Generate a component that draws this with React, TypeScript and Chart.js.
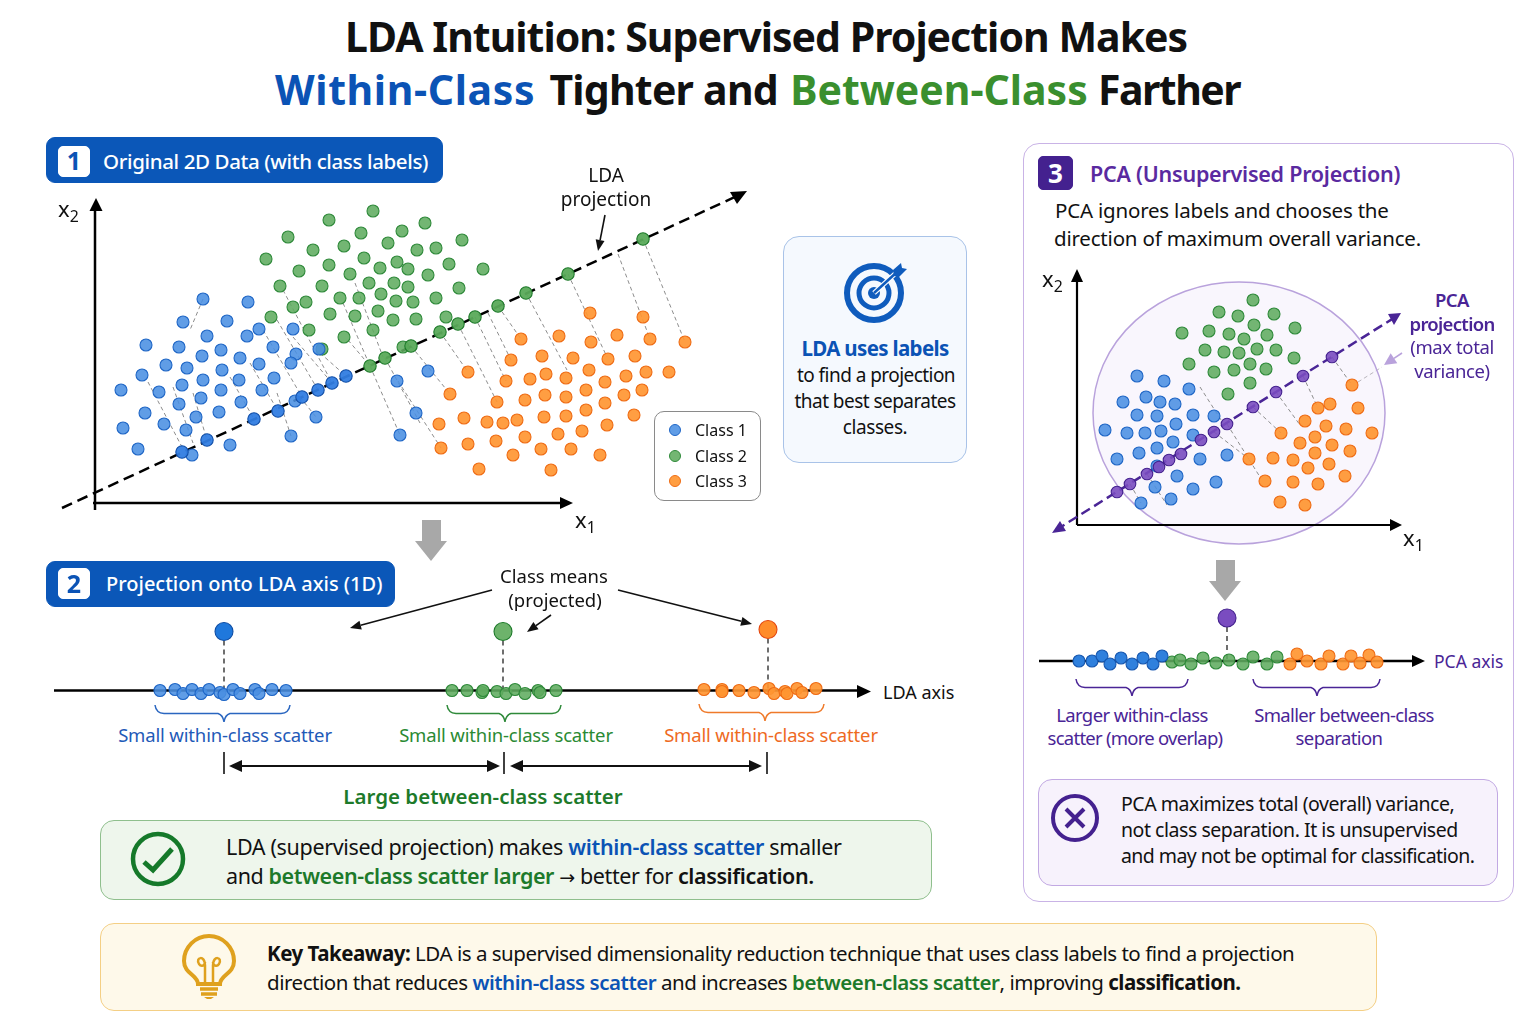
import React, { useEffect, useRef } from "react";
import { Chart, registerables } from "chart.js";

Chart.register(...registerables);

type P = [number, number];

// Panel 1: original 2D data (units: distance from the x1/x2 origin)
const class1Points: P[] = [[108,204],[153,201],[88,181],[132,182],[164,174],[198,174],[112,167],[152,167],[51,158],[84,156],[126,153],[178,156],[224,154],[201,149],[107,147],[145,145],[71,138],[92,135],[127,133],[164,139],[196,140],[47,128],[144,123],[108,123],[179,125],[87,118],[26,113],[64,111],[126,113],[167,113],[106,105],[84,99],[146,101],[50,90],[124,91],[101,86],[69,79],[91,73],[28,75],[221,86],[196,67],[135,58],[43,54],[97,48],[200,102],[302,122],[305,68],[333,132],[321,90]];
const class2Points: P[] = [[278,292],[234,283],[193,266],[307,272],[266,270],[293,260],[249,257],[218,253],[171,244],[269,245],[234,238],[302,241],[285,235],[204,232],[255,229],[313,234],[274,220],[299,220],[227,217],[185,217],[313,216],[286,209],[245,205],[264,205],[301,202],[211,201],[198,196],[283,192],[176,186],[235,189],[260,187],[298,183],[214,173],[278,173],[249,166],[227,154],[330,280],[367,263],[322,253],[341,255],[354,239],[388,234],[333,228],[364,215],[341,205],[318,201],[321,184],[351,186],[308,156]];
const class3Points: P[] = [[495,190],[548,186],[464,167],[522,168],[426,164],[496,161],[555,164],[590,161],[447,147],[478,145],[513,144],[540,147],[416,143],[494,133],[373,131],[451,129],[551,131],[574,131],[531,127],[411,122],[435,124],[471,125],[510,121],[491,113],[547,113],[355,109],[450,108],[529,108],[471,106],[430,103],[402,101],[510,100],[491,93],[539,88],[449,86],[471,87],[369,85],[422,83],[392,81],[408,80],[344,79],[512,78],[487,72],[463,69],[430,66],[401,62],[373,59],[346,55],[476,54],[446,54],[418,48],[505,48],[384,34],[456,33]];
const class1OnLine: P[] = [[87,51],[112,63],[159,84],[183,92],[207,106],[223,113],[237,120],[251,127]];
const class2OnLine: P[] = [[275,137],[290,145],[316,157],[345,171],[363,179],[380,186],[403,197],[431,210],[473,229],[548,264]];
const ldaLine: P[] = [[-33,-5],[642,307]];
const ldaGuides: [number, number, number, number][] = [[548,264,590,161],[523,249,555,164],[473,229,512,146],[431,210,472,133],[403,197,426,164],[393,190,416,143],[380,186,411,122],[363,179,402,101],[345,171,373,131],[316,157,355,109],[303,122,346,55],[188,213,237,120],[182,183,223,113],[248,200,275,137],[260,220,288,146],[253,163,275,137],[53,121,87,56],[78,116,98,60],[98,110,112,63],[155,140,183,92],[168,173,207,106],[198,166,237,120],[225,150,251,127],[135,126,159,84],[182,110,196,67],[205,106,221,86],[275,137,305,68],[290,145,325,80],[108,204,95,173]];

// Panel 2: projection onto the LDA axis
const lda1Points: P[] = [[106,0],[121,1],[129,-3],[138,1],[147,-3],[155,1],[166,-2],[170,-4],[179,1],[186,-3],[201,1],[205,-3],[218,1],[232,0]];
const lda2Points: P[] = [[398,0],[413,0],[428,-2],[429,0],[443,-1],[452,-3],[461,1],[471,-3],[484,0],[486,-2],[502,0]];
const lda3Points: P[] = [[650,1],[668,1],[668,-1],[685,0],[700,-2],[715,2],[720,-3],[731,-1],[733,-3],[743,2],[748,-2],[762,2]];
const ldaMeans: P[] = [[170,59],[449,59],[714,61]];

// Panel 3: PCA
const pcaClass1: P[] = [[60,149],[87,144],[112,136],[69,128],[46,123],[98,121],[83,123],[60,110],[80,109],[116,110],[137,109],[99,101],[28,95],[50,92],[84,94],[116,90],[68,92],[96,83],[80,77],[62,72],[40,66],[123,66],[150,70],[80,59],[100,49],[78,38],[116,36],[139,43],[64,22],[94,26]];
const pcaClass2: P[] = [[176,225],[142,213],[161,209],[197,211],[177,200],[105,192],[132,194],[218,197],[152,191],[190,190],[167,186],[128,175],[147,173],[162,172],[180,176],[199,175],[217,167],[112,161],[137,153],[157,155],[173,161],[189,156],[173,142],[151,131]];
const pcaClass3: P[] = [[275,140],[253,121],[281,117],[241,117],[228,104],[249,99],[269,96],[295,92],[204,92],[238,88],[223,82],[255,80],[238,72],[273,74],[172,66],[196,67],[216,65],[252,61],[231,57],[268,49],[188,44],[216,43],[241,41],[203,23],[228,20]];
const pcaOnLine: P[] = [[40,33],[53,41],[70,51],[82,58],[92,65],[104,71],[124,85],[137,93],[150,101],[176,118],[199,133],[226,149],[255,168]];
const pcaLine: P[] = [[-21,-5],[320,209]];
const pcaGuides: [number, number, number, number][] = [[255,168,275,140],[226,149,241,117],[199,133,223,100],[176,118,204,92],[150,101,183,48],[123,138,146,102],[137,93,172,66],[70,51,90,20],[53,41,64,22]];
const pcaEllipse = { cx: 162, cy: 112, rx: 146, ry: 131 };

// Panel 3, lower: PCA axis
const pcaAxis1: P[] = [[40,0],[53,0],[63,5],[71,-3],[82,3],[93,-3],[104,3],[114,-3],[123,5]];
const pcaAxis2: P[] = [[133,-1],[141,1],[152,-3],[164,3],[177,-2],[190,1],[204,-3],[214,4],[228,-3],[238,4]];
const pcaAxis3: P[] = [[251,-3],[258,7],[268,0],[282,-3],[290,5],[304,-3],[312,5],[321,-2],[330,6],[338,-1]];
const pcaMean: P[] = [[188,43]];

const legendLabels = ["Class 1", "Class 2", "Class 3"];

const BLUE = { fill: "rgba(74,144,226,0.88)", line: "#1f66c6" };
const GREEN = { fill: "rgba(96,172,96,0.88)", line: "#2f8a3a" };
const ORANGE = { fill: "rgba(255,150,50,0.92)", line: "#ef6c14" };
const PURPLE = { fill: "#7a4cc0", line: "#44218f" };
const FONT = '"Noto Sans", sans-serif';

const toXY = (a: P[]) => a.map(([x, y]) => ({ x, y }));
const pts = (label: string, data: P[], c: { fill: string; line: string }, r = 6, order = 1) => ({
  label, data: toXY(data), backgroundColor: c.fill, borderColor: c.line, pointBackgroundColor: c.fill,
  pointBorderColor: c.line, pointBorderWidth: 1.1, pointRadius: r, showLine: false, order,
});
const line = (label: string, data: P[], color: string, width: number, dash: number[] = [], order = 5) => ({
  label, data: toXY(data), borderColor: color, backgroundColor: color, borderWidth: width, borderDash: dash,
  pointRadius: 0, showLine: true, order,
});
const guide = (s: number[], i: number) =>
  line("guide " + i, [[s[0], s[1]], [s[2], s[3]]], "#8d8d8d", 1, [4, 3], 6);

function Plot({ left, top, width, height, xr, yr, datasets, ellipse }: any) {
  const ref = useRef<HTMLCanvasElement>(null);
  useEffect(() => {
    const plugin = {
      id: "ellipse",
      beforeDatasetsDraw(c: any) {
        if (!ellipse) return;
        const { ctx, scales } = c;
        const px = scales.x.getPixelForValue(ellipse.cx);
        const py = scales.y.getPixelForValue(ellipse.cy);
        const rx = Math.abs(scales.x.getPixelForValue(ellipse.cx + ellipse.rx) - px);
        const ry = Math.abs(scales.y.getPixelForValue(ellipse.cy + ellipse.ry) - py);
        ctx.save();
        ctx.beginPath();
        ctx.ellipse(px, py, rx, ry, 0, 0, Math.PI * 2);
        ctx.fillStyle = "rgba(140,100,210,0.055)";
        ctx.fill();
        ctx.strokeStyle = "#b9a2dc";
        ctx.lineWidth = 1.5;
        ctx.stroke();
        ctx.restore();
      },
    };
    const chart = new Chart(ref.current as HTMLCanvasElement, {
      type: "scatter",
      data: { datasets },
      options: {
        animation: false,
        responsive: false,
        layout: { padding: 0, autoPadding: false },
        plugins: { legend: { display: false }, tooltip: { enabled: false } },
        scales: {
          x: { type: "linear", display: false, min: xr[0], max: xr[1] },
          y: { type: "linear", display: false, min: yr[0], max: yr[1] },
        },
      },
      plugins: [plugin],
    } as any);
    return () => chart.destroy();
  }, []);
  return <canvas ref={ref} width={width} height={height} style={{ position: "absolute", left, top, width, height }} />;
}

function T({ x, y, size = 19, w = 400, c = "#111", a = "l", ls = 0, children }: any) {
  const tr = a === "c" ? "translate(-50%,-50%)" : "translate(0,-50%)";
  return (
    <div style={{ position: "absolute", left: x, top: y, transform: tr, fontSize: size, fontWeight: w, color: c, whiteSpace: "pre", lineHeight: 1.1, letterSpacing: ls }}>
      {children}
    </div>
  );
}
const Box = ({ x, y, w, h, r = 14, fill = "#fff", b = "#999", bw = 1.5 }: any) => (
  <div style={{ position: "absolute", left: x, top: y, width: w, height: h, borderRadius: r, background: fill, border: `${bw}px solid ${b}`, boxSizing: "border-box" }} />
);
const Brace = ({ x0, x1, xm, y0, c }: any) => (
  <path d={`M${x0} ${y0} Q${x0 + 1} ${y0 + 8} ${x0 + 9} ${y0 + 8.5} L${xm - 6} ${y0 + 8.5} Q${xm - 1} ${y0 + 10} ${xm} ${y0 + 17} Q${xm + 1} ${y0 + 10} ${xm + 6} ${y0 + 8.5} L${x1 - 9} ${y0 + 8.5} Q${x1 - 1} ${y0 + 8} ${x1} ${y0}`} fill="none" stroke={c} strokeWidth={1.5} />
);
const Arrow = ({ x0, y0, x1, y1, c = "#111", sw = 1.6, s = 11, hw = 4.5 }: any) => {
  const a = Math.atan2(y1 - y0, x1 - x0);
  const bx = x1 - s * Math.cos(a), by = y1 - s * Math.sin(a);
  const nx = -Math.sin(a) * hw, ny = Math.cos(a) * hw;
  return (
    <g>
      <line x1={x0} y1={y0} x2={bx} y2={by} stroke={c} strokeWidth={sw} />
      <polygon points={`${x1},${y1} ${bx + nx},${by + ny} ${bx - nx},${by - ny}`} fill={c} />
    </g>
  );
};
const BlockArrow = ({ x, y }: any) => (
  <polygon points={`${x - 9},${y} ${x + 10},${y} ${x + 10},${y + 21} ${x + 16},${y + 21} ${x},${y + 41} ${x - 16},${y + 21} ${x - 9},${y + 21}`} fill="#a8a8a8" />
);
const Sub = ({ base, sub }: any) => (<span>{base}<sub style={{ fontSize: "0.72em", verticalAlign: "-0.3em", lineHeight: 0 }}>{sub}</sub></span>);

const BL = "#0b53b5", GR = "#1d7a2a", PU = "#4a2596";

export default function App() {
  return (
    <div style={{ position: "absolute", left: 0, top: 0, width: 1536, height: 1024, overflow: "hidden", background: "#fff", fontFamily: FONT }}>
      {/* panel backgrounds */}
      <Box x={1023} y={143} w={491} h={759} r={16} b="#c9b3e6" bw={1.6} />
      <Box x={783} y={236} w={184} h={227} r={16} fill="#f5f9fe" b="#a9c3e8" />
      <Box x={654} y={411} w={107} h={90} r={10} b="#8a8a8a" />
      <Box x={100} y={820} w={832} h={80} r={14} fill="#eef6ec" b="#8fbf8d" />
      <Box x={100} y={923} w={1277} h={88} r={14} fill="#fef9ea" b="#f4cf85" />
      <Box x={1038} y={779} w={460} h={107} r={14} fill="#f7f2fc" b="#c2a9e3" />
      <Box x={46} y={137} w={397} h={46} r={9} fill="#0b57b8" b="#0b57b8" />
      <Box x={46} y={561} w={349} h={46} r={9} fill="#0b57b8" b="#0b57b8" />
      <Box x={58} y={146} w={32} h={31} r={5} fill="#fff" b="#fff" />
      <Box x={58} y={568} w={32} h={31} r={5} fill="#fff" b="#fff" />
      <Box x={1038} y={156} w={35} h={34} r={5} fill="#44218f" b="#44218f" />

      {/* decorations */}
      <svg width={1536} height={1024} style={{ position: "absolute", left: 0, top: 0 }}>
        <polygon points="96,198 89.5,211 102.5,211" fill="#000" />
        <polygon points="573,503 560,497 560,509" fill="#000" />
        <polygon points="747,191 730,192 737,204" fill="#000" />
        <Arrow x0={605} y0={215} x1={598} y1={251} />
        <BlockArrow x={431} y={520} />
        <BlockArrow x={1225} y={560} />
        <Arrow x0={492} y0={590} x1={350} y1={628} />
        <Arrow x0={551} y0={615} x1={527} y1={632} />
        <Arrow x0={618} y0={590} x1={752} y1={624} />
        <polygon points="871,691.5 857,685 857,698" fill="#000" />
        <Brace x0={155} x1={290} xm={224} y0={705} c="#2a66c0" />
        <Brace x0={447} x1={561} xm={505} y0={705} c="#2f8a3a" />
        <Brace x0={699} x1={824} xm={765} y0={704} c="#ef7a2a" />
        <line x1={224} y1={752} x2={224} y2={774} stroke="#111" strokeWidth={1.6} />
        <line x1={504} y1={752} x2={504} y2={774} stroke="#111" strokeWidth={1.6} />
        <line x1={767} y1={752} x2={767} y2={774} stroke="#111" strokeWidth={1.6} />
        <Arrow x0={240} y0={766} x1={229} y1={766} sw={2.2} s={13} hw={6} />
        <Arrow x0={490} y0={766} x1={500} y1={766} sw={2.2} s={13} hw={6} />
        <line x1={235} y1={766} x2={490} y2={766} stroke="#111" strokeWidth={2.2} />
        <Arrow x0={520} y0={766} x1={510} y1={766} sw={2.2} s={13} hw={6} />
        <Arrow x0={752} y0={766} x1={762} y1={766} sw={2.2} s={13} hw={6} />
        <line x1={515} y1={766} x2={752} y2={766} stroke="#111" strokeWidth={2.2} />

        <polygon points="1077,269 1071,282 1083,282" fill="#000" />
        <polygon points="1402,525 1390,519 1390,531" fill="#000" />
        <polygon points="1401,313 1388,314 1394,325" fill={PU} />
        <polygon points="1052,533 1060,521 1066,531" fill={PU} />
        <Arrow x0={1402} y0={353} x1={1384} y1={365} c="#b9a2dc" s={12} hw={6} />
        <line x1={1358} y1={382} x2={1382} y2={367} stroke="#bdbdbd" strokeWidth={1} strokeDasharray="4 3" />
        <polygon points="1425,661 1412,655 1412,667" fill="#000" />
        <Brace x0={1076} x1={1188} xm={1132} y0={679} c={PU} />
        <Brace x0={1253} x1={1380} xm={1317} y0={679} c={PU} />

        {/* target icon */}
        <g fill="none" stroke="#0f5cbd">
          <circle cx={874} cy={293} r={27} strokeWidth={6} />
          <circle cx={874} cy={293} r={15} strokeWidth={5} />
        </g>
        <circle cx={874} cy={293} r={6} fill="#0f5cbd" />
        <line x1={874} y1={293} x2={897} y2={272} stroke="#fff" strokeWidth={5} />
        <line x1={874} y1={293} x2={897} y2={272} stroke="#0f5cbd" strokeWidth={2.5} />
        <polygon points="893,270 901,263 902,268 907,269 899,277 894,276" fill="#0f5cbd" />

        {/* check icon */}
        <circle cx={158} cy={859} r={25} fill="none" stroke="#15792a" strokeWidth={4.5} />
        <polyline points="144,862 153,870 172,849" fill="none" stroke="#15792a" strokeWidth={5} />

        {/* bulb icon */}
        <g fill="none" stroke="#dfa11e">
          <path d="M198 984 C198 975 184 974 184 961 A25 25 0 1 1 234 961 C234 974 220 975 220 984 Z" strokeWidth={4} />
          <path d="M205 983 L205 965 C205 955 195 957 199 964 C201 967 205 966 205 962 M213 983 L213 965 C213 955 223 957 219 964 C217 967 213 966 213 962" strokeWidth={2.5} />
          <path d="M200 989 H218 M201 994 H217" strokeWidth={3.5} />
        </g>
        <path d="M204 997 H214 L211 999 H207 Z" fill="#dfa11e" />

        {/* x icon */}
        <circle cx={1075} cy={818} r={22} fill="none" stroke="#44218f" strokeWidth={4} />
        <path d="M1066 809 L1084 827 M1084 809 L1066 827" stroke="#44218f" strokeWidth={4} />
      </svg>

      {/* charts */}
      <Plot left={40} top={185} width={730} height={340} xr={[-55, 675]} yr={[-22, 318]}
        datasets={[
          pts("Class 1 on LDA line", class1OnLine, { fill: "rgba(50,125,225,0.95)", line: "#124fa8" }, 6.2, 0),
          pts("Class 2 on LDA line", class2OnLine, { fill: "rgba(90,170,90,0.95)", line: "#1d7a2a" }, 6.2, 0),
          pts(legendLabels[0], class1Points, BLUE),
          pts(legendLabels[1], class2Points, GREEN),
          pts(legendLabels[2], class3Points, ORANGE),
          line("LDA projection", ldaLine, "#000", 2.5, [11, 6], 3),
          line("x1 axis", [[-2, 0], [466, 0]], "#000", 2.5, [], 4),
          line("x2 axis", [[0, -7], [0, 293]], "#000", 2.5, [], 4),
          ...ldaGuides.map(guide),
        ]} />
      <Plot left={40} top={610} width={840} height={100} xr={[-14, 826]} yr={[-19.5, 80.5]}
        datasets={[
          pts("Class 1 mean", [ldaMeans[0]], { fill: "#1f78dc", line: "#0e4da4" }, 9, 0),
          pts("Class 2 mean", [ldaMeans[1]], { fill: "#6db36b", line: "#1d7a2a" }, 9, 0),
          pts("Class 3 mean", [ldaMeans[2]], { fill: "#ff8c2a", line: "#e4470f" }, 9, 0),
          pts("Class 1 projected", lda1Points, BLUE, 6),
          pts("Class 2 projected", lda2Points, GREEN, 6),
          pts("Class 3 projected", lda3Points, ORANGE, 6),
          line("LDA axis", [[0, 0], [804, 0]], "#000", 2.5),
          ...ldaMeans.map((m, i) => line("mean drop " + i, [m, [m[0], 0]], "#222", 1.3, [5, 4], 6)),
        ]} />
      <Plot left={1030} top={260} width={400} height={290} xr={[-47, 353]} yr={[-25, 265]} ellipse={pcaEllipse}
        datasets={[
          pts("PCA projected", pcaOnLine, { fill: "rgba(122,76,192,0.9)", line: PURPLE.line }, 5.8, 0),
          pts("Class 1", pcaClass1, BLUE),
          pts("Class 2", pcaClass2, GREEN),
          pts("Class 3", pcaClass3, ORANGE),
          line("PCA projection", pcaLine, PU, 2.5, [10, 5], 3),
          line("x1 axis", [[0, 0], [315, 0]], "#000", 2.2, [], 4),
          line("x2 axis", [[0, 0], [0, 245]], "#000", 2.2, [], 4),
          ...pcaGuides.map(guide),
        ]} />
      <Plot left={1030} top={600} width={400} height={85} xr={[-9, 391]} yr={[-24, 61]}
        datasets={[
          pts("PCA mean", pcaMean, PURPLE, 9, 0),
          pts("Class 1 on PCA axis", pcaAxis1, { fill: "#2f80dd", line: "#1657b0" }, 6),
          pts("Class 2 on PCA axis", pcaAxis2, GREEN, 6),
          pts("Class 3 on PCA axis", pcaAxis3, ORANGE, 6),
          line("PCA axis", [[0, 0], [375, 0]], "#000", 2.5),
          line("mean drop", [pcaMean[0], [pcaMean[0][0], 0]], "#222", 1.3, [5, 4], 6),
        ]} />

      {/* title */}
      <T x={345} y={37} size={41} w={700} ls={-0.98}>LDA Intuition: Supervised Projection Makes</T>
      <T x={275} y={90} size={41} w={700}>
        <span style={{ color: "#0b53b5", letterSpacing: 0.63 }}>Within-Class</span>
        <span style={{ letterSpacing: 3.5 }}> </span>
        <span style={{ letterSpacing: -0.75 }}>Tighter and</span>
        <span style={{ letterSpacing: 1.5 }}> </span>
        <span style={{ color: "#3a8f2e", letterSpacing: 0 }}>Between-Class</span>
        <span style={{ letterSpacing: -0.5 }}> </span>
        <span style={{ letterSpacing: -1.5 }}>Farther</span>
      </T>

      {/* panel 1 */}
      <T x={74} y={161} size={25} w={700} c={BL} a="c">1</T>
      <T x={103} y={161} size={20.5} ls={-0.37} w={500} c="#fff">Original 2D Data (with class labels)</T>
      <T x={58} y={208} size={22}><Sub base="x" sub="2" /></T>
      <T x={575} y={519} size={22}><Sub base="x" sub="1" /></T>
      <T x={606} y={175} size={19} a="c">LDA</T>
      <T x={606} y={199} size={19} a="c">projection</T>

      {/* legend */}
      {legendLabels.map((l, i) => (
        <T key={l} x={695} y={431 + i * 25.5} size={16}>{l}</T>
      ))}
      {[BLUE, GREEN, ORANGE].map((c, i) => (
        <div key={i} style={{ position: "absolute", left: 669, top: 424 + i * 25.5, width: 12, height: 12, borderRadius: "50%", background: c.fill, border: `1.2px solid ${c.line}`, boxSizing: "border-box" }} />
      ))}

      {/* callout */}
      <T x={875} y={348} size={20.5} w={700} ls={-0.66} c={BL} a="c">LDA uses labels</T>
      <T x={876} y={375} size={19} ls={-0.55} a="c">to find a projection</T>
      <T x={875} y={401} size={19} ls={-0.55} a="c">that best separates</T>
      <T x={875} y={427} size={19} ls={-0.4} a="c">classes.</T>

      {/* panel 2 */}
      <T x={74} y={584} size={25} w={700} c={BL} a="c">2</T>
      <T x={106} y={584} size={20} w={500} c="#fff">Projection onto LDA axis (1D)</T>
      <T x={554} y={576} size={18.5} a="c">Class means</T>
      <T x={555} y={600} size={18.5} a="c">(projected)</T>
      <T x={883} y={693} size={18}>LDA axis</T>
      <T x={225} y={735} size={18.5} ls={-0.16} c="#1f5ab8" a="c">Small within-class scatter</T>
      <T x={506} y={735} size={18.5} ls={-0.16} c="#2a8a33" a="c">Small within-class scatter</T>
      <T x={771} y={735} size={18.5} ls={-0.16} c="#ee6a1f" a="c">Small within-class scatter</T>
      <T x={483} y={796} size={20.5} w={600} c={GR} a="c">Large between-class scatter</T>

      {/* green note */}
      <T x={226} y={847} size={21.5} ls={-0.34}>
        LDA (supervised projection) makes <span style={{ color: BL, fontWeight: 600 }}>within-class scatter</span> smaller
      </T>
      <T x={226} y={876} size={21.5} ls={-0.4}>
        and <span style={{ color: GR, fontWeight: 600 }}>between-class scatter larger</span> <span style={{ fontFamily: '"DejaVu Sans"', fontSize: 19 }}>→</span> better for <span style={{ fontWeight: 600 }}>classification.</span>
      </T>

      {/* takeaway */}
      <T x={267} y={953} size={20.5} ls={-0.48}>
        <span style={{ fontWeight: 700 }}>Key Takeaway:</span> LDA is a supervised dimensionality reduction technique that uses class labels to find a projection
      </T>
      <T x={267} y={982} size={20.5} ls={-0.47}>
        direction that reduces <span style={{ color: BL, fontWeight: 600 }}>within-class scatter</span> and increases <span style={{ color: GR, fontWeight: 600 }}>between-class scatter</span>, improving <span style={{ fontWeight: 700 }}>classification.</span>
      </T>

      {/* panel 3 */}
      <T x={1055.5} y={173} size={26} w={700} c="#fff" a="c">3</T>
      <T x={1090} y={174} size={21.5} ls={-0.24} w={600} c="#5a2aa0">PCA (Unsupervised Projection)</T>
      <T x={1055} y={210} size={20.5} ls={-0.2}>PCA ignores labels and chooses the</T>
      <T x={1054} y={238} size={20.5} ls={-0.2}>direction of maximum overall variance.</T>
      <T x={1042} y={278} size={22}><Sub base="x" sub="2" /></T>
      <T x={1403} y={537} size={22}><Sub base="x" sub="1" /></T>
      <T x={1452} y={300} size={18.5} ls={-0.6} w={600} c={PU} a="c">PCA</T>
      <T x={1452} y={324} size={18.5} ls={-0.7} w={600} c={PU} a="c">projection</T>
      <T x={1452} y={347} size={18.5} ls={-0.4} c={PU} a="c">(max total</T>
      <T x={1452} y={371} size={18.5} ls={-0.4} c={PU} a="c">variance)</T>
      <T x={1434} y={662} size={17.5} c={PU}>PCA axis</T>
      <T x={1132} y={715} size={18.5} ls={-0.6} c={PU} a="c">Larger within-class</T>
      <T x={1135} y={738} size={18.5} ls={-0.75} c={PU} a="c">scatter (more overlap)</T>
      <T x={1344} y={715} size={18.5} ls={-0.65} c={PU} a="c">Smaller between-class</T>
      <T x={1339} y={738} size={18.5} ls={-0.6} c={PU} a="c">separation</T>
      <T x={1121} y={804} size={19.5} ls={-0.46}>PCA maximizes total (overall) variance,</T>
      <T x={1121} y={830} size={19.5} ls={-0.46}>not class separation. It is unsupervised</T>
      <T x={1121} y={856} size={19.5} ls={-0.57}>and may not be optimal for classification.</T>
    </div>
  );
}
